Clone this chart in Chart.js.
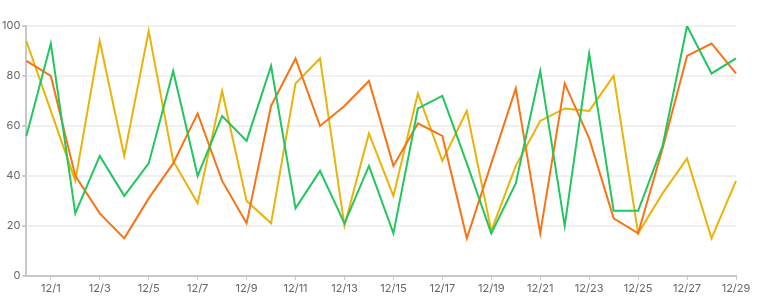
<!DOCTYPE html>
<html>
<head>
<meta charset="utf-8">
<script src="https://cdn.jsdelivr.net/npm/chart.js@4"></script>
<style>
  html, body { margin: 0; padding: 0; background: #fff; }
  #wrap { width: 784px; height: 300px; }
</style>
</head>
<body>
<div id="wrap"><canvas id="c"></canvas></div>
<script>
const categories = ['11/30','12/1','12/2','12/3','12/4','12/5','12/6','12/7','12/8','12/9','12/10','12/11','12/12','12/13','12/14','12/15','12/16','12/17','12/18','12/19','12/20','12/21','12/22','12/23','12/24','12/25','12/26','12/27','12/28','12/29'];
const greenValues  = [56, 93, 25, 48, 32, 45, 82, 40, 64, 54, 84, 27, 42, 21, 44, 17, 67, 72, 45, 17, 37, 82, 20, 89, 26, 26, 52, 100, 81, 87];
const orangeValues = [86, 80, 40, 25, 15, 31, 45, 65, 38, 21, 68, 87, 60, 68, 78, 44, 61, 56, 15, 45, 75, 17, 77, 55, 23, 17, 51, 88, 93, 81];
const yellowValues = [94, 66, 38, 94, 48, 98, 46, 29, 74, 30, 21, 77, 87, 20, 57, 32, 73, 46, 66, 18, 44, 62, 67, 66, 80, 17, 33, 47, 15, 38];
const yTicks = [0, 20, 40, 60, 80, 100];

const tickFont = { family: 'Inter', size: 11 };
const tickColor = '#666';

new Chart(document.getElementById('c'), {
  type: 'line',
  data: {
    labels: categories,
    datasets: [
      { data: greenValues,  borderColor: '#22c55e', backgroundColor: '#22c55e', borderWidth: 2, pointRadius: 0, tension: 0 },
      { data: orangeValues, borderColor: '#f97316', backgroundColor: '#f97316', borderWidth: 2, pointRadius: 0, tension: 0 },
      { data: yellowValues, borderColor: '#eab308', backgroundColor: '#eab308', borderWidth: 2, pointRadius: 0, tension: 0 }
    ]
  },
  options: {
    responsive: true,
    maintainAspectRatio: false,
    animation: false,
    layout: { padding: { top: 26, right: 48, bottom: 3, left: 0 } },
    plugins: { legend: { display: false }, tooltip: { enabled: false } },
    scales: {
      x: {
        offset: false,
        afterBuildTicks: axis => { axis.ticks = axis.ticks.filter(t => t.value % 2 === 1); },
        ticks: { autoSkip: false, maxRotation: 0, font: tickFont, color: tickColor, padding: 2 },
        grid: { drawOnChartArea: false, drawTicks: true, tickLength: 4, tickColor: '#c8c8cc' },
        border: { display: true, color: '#c8c8cc', width: 2 }
      },
      y: {
        min: 0, max: 100,
        afterBuildTicks: axis => { axis.ticks = yTicks.map(v => ({ value: v })); },
        ticks: { font: tickFont, color: tickColor, padding: 2 },
        grid: { color: '#f0f0f0', lineWidth: 2, tickLength: 4, tickColor: '#c8c8cc' },
        border: { display: true, color: '#c8c8cc', width: 2 }
      }
    }
  }
});
</script>
</body>
</html>
